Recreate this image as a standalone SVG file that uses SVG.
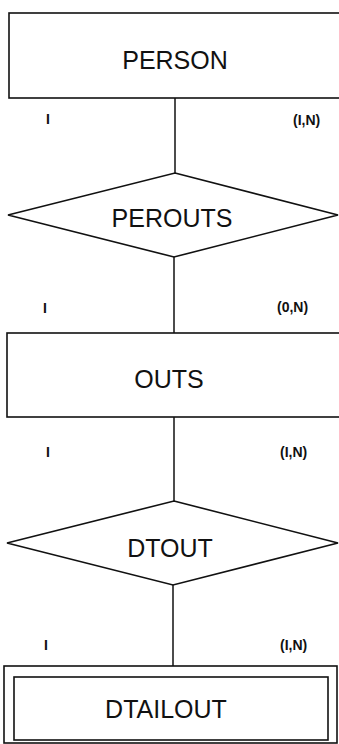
<svg xmlns="http://www.w3.org/2000/svg" width="339" height="744" viewBox="0 0 339 744">
<style>
.s{fill:#fff;stroke:#111;stroke-width:1.6}
.t{font-family:"Liberation Sans",Arial,sans-serif;font-size:25px;fill:#111;text-anchor:middle}
.c{font-family:"Liberation Sans",Arial,sans-serif;font-size:14px;font-weight:bold;fill:#111}
.l{stroke:#111;stroke-width:1.5;fill:none}
</style>
<rect width="339" height="744" fill="#fff"/>
<g id="connectors">
<line class="l" x1="175" y1="98" x2="175" y2="173"/>
<line class="l" x1="174" y1="257" x2="174" y2="333"/>
<line class="l" x1="174" y1="417" x2="174" y2="501"/>
<line class="l" x1="173" y1="585" x2="173" y2="666"/>
<text class="c" x="46" y="124">I</text>
<text class="c" x="293" y="125">(I,N)</text>
<text class="c" x="43" y="313">I</text>
<text class="c" x="277" y="312">(0,N)</text>
<text class="c" x="46" y="457">I</text>
<text class="c" x="280" y="457">(I,N)</text>
<text class="c" x="44" y="650">I</text>
<text class="c" x="280" y="650">(I,N)</text>
</g>
<g id="person">
<rect class="s" x="9" y="13" width="335" height="85"/>
<text class="t" x="175" y="69">PERSON</text>
</g>
<g id="perouts">
<polygon class="s" points="175,173 338,215 174,257 8,215"/>
<text class="t" x="172" y="227">PEROUTS</text>
</g>
<g id="outs">
<rect class="s" x="7" y="333" width="337" height="84"/>
<text class="t" x="169" y="388">OUTS</text>
</g>
<g id="dtout">
<polygon class="s" points="174,501 338,543 173,585 7,543"/>
<text class="t" x="170" y="557">DTOUT</text>
</g>
<g id="dtailout">
<rect class="s" x="4" y="666" width="333" height="77"/>
<rect class="s" x="14" y="677" width="314" height="63"/>
<text class="t" x="166" y="718" font-size="24">DTAILOUT</text>
</g>
</svg>
